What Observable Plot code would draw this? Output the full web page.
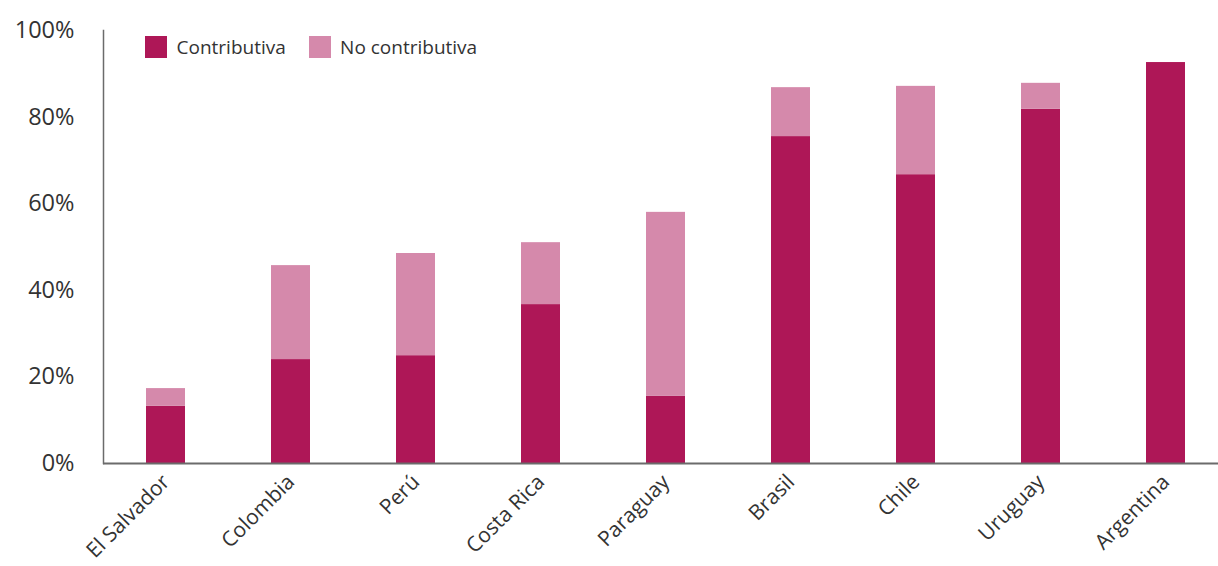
<!DOCTYPE html>
<html><head><meta charset="utf-8">
<script src="https://cdn.jsdelivr.net/npm/d3@7"></script>
<script src="https://cdn.jsdelivr.net/npm/@observablehq/plot@0.6"></script>
<style>
body{margin:0;background:#fff;font-family:"Open Sans",sans-serif;}
#wrap{position:relative;width:1218px;height:566px;}
#legend{position:absolute;left:145px;top:30px;}
#legend span{margin-right:1.2em !important;}
</style></head><body><div id="wrap"><div id="legend"></div></div>
<script>
const countries = ["El Salvador","Colombia","Perú","Costa Rica","Paraguay","Brasil","Chile","Uruguay","Argentina"];
const contributiva = [13.2,24.0,24.9,36.7,15.5,75.5,66.7,81.8,92.6];
const noContributiva = [4.1,21.7,23.6,14.3,42.5,11.3,20.4,6.0,0];
const seriesNames = ["Contributiva","No contributiva"];
const seriesColors = ["#AE1757","#D589AB"];
const yTicks = [0,20,40,60,80,100];

const rows = [];
countries.forEach((c,i)=>{
  rows.push({country:c, serie:seriesNames[0], value:contributiva[i]});
  rows.push({country:c, serie:seriesNames[1], value:noContributiva[i]});
});

const chart = Plot.plot({
  width:1218, height:566,
  marginLeft:103, marginRight:0, marginTop:30, marginBottom:103,
  style:{fontFamily:"Open Sans, sans-serif", color:"#333", background:"#fff"},
  x:{domain:countries, range:[102,1229], paddingInner:0.69, paddingOuter:0.345, label:null},
  y:{domain:[0,100], label:null},
  color:{domain:seriesNames, range:seriesColors},
  marks:[
    Plot.barY(rows, {x:"country", y:"value", fill:"serie", order:seriesNames}),
    Plot.ruleY([0], {stroke:"#6b6b6b", strokeWidth:1.8}),
    Plot.frame({anchor:"left", stroke:"#6b6b6b", strokeWidth:1.5}),
    Plot.axisY({ticks:yTicks, tickSize:0, tickPadding:29, tickFormat:d=>d+"%", fontSize:23.5, fill:"#333", label:null}),
    Plot.axisX({tickSize:0, tickRotate:-45, tickPadding:15, fontSize:21, fill:"#333", label:null})
  ]
});
document.getElementById("wrap").prepend(chart);

const leg = Plot.legend({
  color:{domain:seriesNames, range:seriesColors},
  legend:"swatches", swatchSize:22,
  style:{fontFamily:"Open Sans, sans-serif", fontSize:"19px", color:"#333"}
});
document.getElementById("legend").appendChild(leg);
</script></body></html>
